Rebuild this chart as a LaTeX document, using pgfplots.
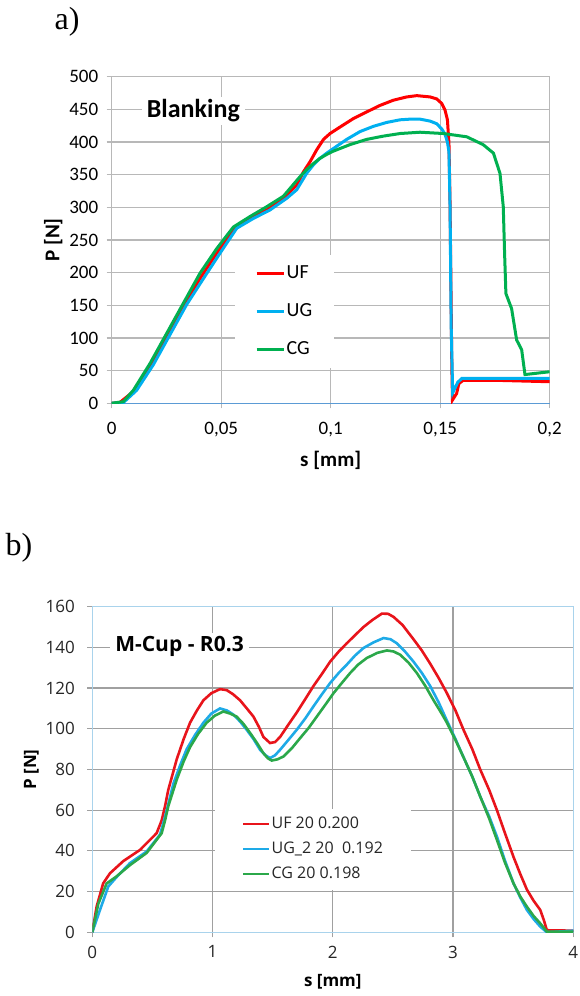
\documentclass[border=0pt]{standalone}
\usepackage{pgfplots}
\pgfplotsset{compat=1.18}
\usepackage{fontspec}
\setmainfont{Carlito}
\newfontfamily\timesfont{Liberation Serif}
\newfontfamily\osfont{Open Sans}
\definecolor{tred}{HTML}{FF0000}
\definecolor{tblue}{HTML}{00B0F0}
\definecolor{tgreen}{HTML}{00B050}
\definecolor{bred}{HTML}{E8141B}
\definecolor{bblue}{HTML}{1EAAE7}
\definecolor{bgreen}{HTML}{2BA84A}
\definecolor{gridgray}{HTML}{B8B8B8}
\definecolor{gridgray2}{HTML}{A0A0A0}
\definecolor{axisblue}{HTML}{5B9BD5}
\definecolor{frameblue}{HTML}{A9D3EC}
\begin{document}
\begin{tikzpicture}[x=1pt,y=1pt]
\path[use as bounding box] (0,0) rectangle (579,996);
\node[font=\timesfont\fontsize{32}{34}\selectfont] at (67,974) {a)};
\node[font=\timesfont\fontsize{32}{34}\selectfont] at (19,448) {b)};

\begin{axis}[
  at={(111.7pt,592.7pt)}, anchor=south west,
  scale only axis, width=438pt, height=326.6pt,
  xmin=0, xmax=0.2, ymin=0, ymax=500,
  xtick={0,0.05,0.1,0.15,0.2},
  xticklabels={0,{0,05},{0,1},{0,15},{0,2}},
  ytick={0,50,...,500},
  grid=major,
  major grid style={draw=gridgray, line width=1.2pt},
  axis x line=bottom, axis y line=left,
  x axis line style={draw=axisblue, line width=1pt, -},
  y axis line style={draw=gridgray, line width=1.2pt, -},
  tick align=outside, major tick length=5pt,
  tick style={draw=gridgray, line width=1.2pt},
  ticklabel style={font=\fontsize{19}{21}\selectfont, text=black},
  xticklabel style={yshift=-10pt},
  yticklabel style={xshift=-5pt},
  /pgf/number format/assume math mode=true,
  xlabel={\textbf{s [mm]}}, ylabel={\textbf{P [N]}},
  xlabel style={yshift=-8pt},
  label style={font=\fontsize{21}{24}\selectfont},
  legend style={at={(0.2815,0.454)}, anchor=north west, draw=none, fill=white,
    inner xsep=20pt, inner ysep=8pt, font=\fontsize{20}{22}\selectfont,
    row sep=17pt, nodes={text height=14pt, text depth=4pt, inner sep=1.5pt}},
  legend cell align=left,
  legend image code/.code={\draw[#1] (0pt,0pt) -- (27pt,0pt);},
]
\addplot[tred, line width=3pt] coordinates {(0,0)(0.0038,1.5)(0.0099,18)(0.0175,56)(0.0251,102)(0.0327,148)(0.0403,191)(0.048,230)(0.0556,265)(0.0632,283)(0.0708,296)(0.0784,314)(0.0845,334)(0.0875,354)(0.0906,370)(0.0936,388)(0.0967,404)(0.0997,413)(0.1043,423)(0.1104,436)(0.1164,446)(0.1225,456)(0.1286,464)(0.1347,469)(0.1393,471)(0.1454,469)(0.1484,466)(0.1507,459)(0.1522,449)(0.1533,434)(0.154,398)(0.1545,306)(0.155,150)(0.1553,60)(0.1556,5)(0.1575,15)(0.1585,30)(0.1604,35)(0.1773,35)(0.2,33)};
\addlegendentry{UF}
\addplot[tblue, line width=3pt] coordinates {(0,0)(0.0053,1)(0.0114,20)(0.019,59)(0.0266,105)(0.0342,151)(0.0419,191)(0.0495,230)(0.0571,268)(0.0647,283)(0.0723,296)(0.08,314)(0.0845,327)(0.089,352)(0.0921,365)(0.0951,375)(0.0982,383)(0.1012,390)(0.1073,404)(0.1134,416)(0.1195,424)(0.1256,430)(0.1317,434)(0.1362,435)(0.1408,435)(0.1454,432)(0.1484,428)(0.1507,420)(0.1522,412)(0.1533,400)(0.154,385)(0.1545,300)(0.155,120)(0.1557,16)(0.158,32)(0.1598,38)(0.2,38)};
\addlegendentry{UG}
\addplot[tgreen, line width=3pt] coordinates {(0,0)(0.0053,2.5)(0.0099,20)(0.0175,61)(0.0251,107)(0.0327,153)(0.0403,199)(0.048,237)(0.0556,270)(0.0632,286)(0.0708,301)(0.0784,317)(0.086,347)(0.0891,358)(0.0921,367)(0.0951,375)(0.0982,381)(0.1012,386)(0.1088,396)(0.1164,404)(0.124,409)(0.1317,413)(0.1408,415)(0.1514,413)(0.1621,408)(0.1696,396)(0.1743,383)(0.1773,352)(0.1788,301)(0.1794,230)(0.18,168)(0.1826,145)(0.1849,97)(0.1872,82)(0.1887,44)(0.1992,48)(0.2,48)};
\addlegendentry{CG}
\node[anchor=base west, fill=white, inner xsep=5pt, inner ysep=3pt, font=\bfseries\fontsize{26}{28}\selectfont] at (rel axis cs:0.0685,0.874) {Blanking};
\end{axis}

\begin{axis}[
  at={(92.3pt,63.7pt)}, anchor=south west,
  scale only axis, width=481pt, height=325.6pt,
  xmin=0, xmax=4, ymin=0, ymax=160,
  xtick={0,1,2,3,4},
  ytick={0,20,...,160},
  grid=major,
  major grid style={draw=gridgray2, line width=1.2pt},
  axis line style={draw=frameblue, line width=1pt},
  tick align=outside, major tick length=5pt,
  xtick pos=bottom, ytick pos=left,
  tick style={draw=gridgray2, line width=1.2pt},
  ticklabel style={font=\osfont\fontsize{17}{19}\selectfont, text=black!85},
  xticklabel style={yshift=-5pt},
  yticklabel style={xshift=-9pt},
  /pgf/number format/assume math mode=true,
  xlabel={\textbf{s [mm]}}, ylabel={\textbf{P [N]}},
  xlabel style={yshift=-9pt},
  label style={font=\osfont\fontsize{17}{20}\selectfont},
  legend style={at={(0.255,0.38)}, anchor=north west, draw=none, fill=white,
    inner xsep=27pt, inner ysep=6pt, font=\osfont\fontsize{16}{18}\selectfont, text=black!85,
    row sep=6pt, nodes={text height=12pt, text depth=4pt, inner sep=1.5pt}},
  legend cell align=left,
  legend image code/.code={\draw[#1, line width=2pt] (0pt,0pt) -- (26pt,0pt);},
]
\addplot[bred, line width=2.6pt] coordinates {(0,0)(0.036,12.6)(0.09,24)(0.147,29)(0.258,35)(0.397,40.5)(0.535,48.7)(0.577,55)(0.605,62)(0.632,70)(0.702,85)(0.76,95)(0.813,103)(0.87,109)(0.924,114)(0.99,117.5)(1.062,119.5)(1.118,119)(1.17,117)(1.229,114)(1.285,110)(1.34,106)(1.385,101)(1.423,96)(1.478,93)(1.52,93.5)(1.562,96)(1.63,102)(1.7,108)(1.77,114.5)(1.839,121)(1.91,127)(1.978,133)(2.05,138)(2.116,142)(2.185,146)(2.255,150)(2.33,153.5)(2.408,156.6)(2.46,156.5)(2.505,155)(2.58,151)(2.671,144)(2.74,138.5)(2.81,132)(2.88,125)(2.949,117.5)(3.02,109)(3.087,99.5)(3.16,90)(3.226,80)(3.3,70)(3.365,60)(3.43,49)(3.503,37)(3.56,28.5)(3.614,21)(3.67,15.5)(3.725,11)(3.755,6)(3.78,1)(4,0.8)};
\addlegendentry{UF 20 0.200}
\addplot[bblue, line width=2.6pt] coordinates {(0,0)(0.064,11)(0.133,22.5)(0.2,27)(0.313,34)(0.452,39.7)(0.563,48)(0.592,54)(0.619,60)(0.674,73)(0.73,82)(0.785,90)(0.855,97)(0.924,103)(0.99,107.5)(1.062,110)(1.12,109)(1.173,107)(1.23,103.5)(1.284,99.5)(1.34,95)(1.395,89.7)(1.44,87)(1.478,85.6)(1.52,87)(1.562,89.7)(1.63,94.5)(1.7,99.5)(1.77,105)(1.839,111)(1.91,117)(1.978,122.5)(2.05,127.5)(2.116,131.5)(2.185,136)(2.255,139.7)(2.34,142.5)(2.422,144.6)(2.48,144)(2.533,142)(2.6,138)(2.671,133)(2.74,127.5)(2.81,121)(2.88,113)(2.949,104)(3.02,95)(3.087,86)(3.16,76.5)(3.226,66.7)(3.3,57)(3.365,47)(3.43,35.5)(3.503,24)(3.56,17)(3.614,11)(3.67,6.5)(3.725,2.8)(3.78,0)(4,0.8)};
\addlegendentry{UG\_2 20\ \ 0.192}
\addplot[bgreen, line width=2.6pt] coordinates {(0,0)(0.05,14)(0.119,24)(0.2,27.4)(0.313,33)(0.452,39)(0.577,48.7)(0.605,55)(0.632,62)(0.702,75)(0.76,84)(0.813,91)(0.88,97.5)(0.951,103)(1.02,106.5)(1.09,108.5)(1.145,107.5)(1.2,106)(1.256,102.5)(1.312,98)(1.37,93)(1.423,88)(1.46,85.5)(1.492,84.4)(1.54,85)(1.59,86.4)(1.66,90.5)(1.728,95.4)(1.8,100.5)(1.867,106)(1.94,112)(2.006,117.5)(2.075,122.5)(2.144,127.4)(2.21,131.5)(2.283,134.8)(2.37,137.3)(2.45,138.5)(2.505,138)(2.56,136.4)(2.63,132.5)(2.699,127.4)(2.77,121)(2.838,114)(2.9,108)(2.949,103)(3.02,94.5)(3.087,86)(3.16,76.5)(3.226,66.7)(3.3,56)(3.365,45.4)(3.43,34.5)(3.503,24)(3.56,17.5)(3.614,12.6)(3.67,8)(3.725,4.4)(3.78,0.3)(4,0.3)};
\addlegendentry{CG 20 0.198}
\node[anchor=base west, fill=white, inner xsep=5pt, inner ysep=3pt, font=\osfont\bfseries\fontsize{21}{24}\selectfont] at (rel axis cs:0.037,0.862) {M-Cup - R0.3};
\end{axis}
\end{tikzpicture}
\end{document}
